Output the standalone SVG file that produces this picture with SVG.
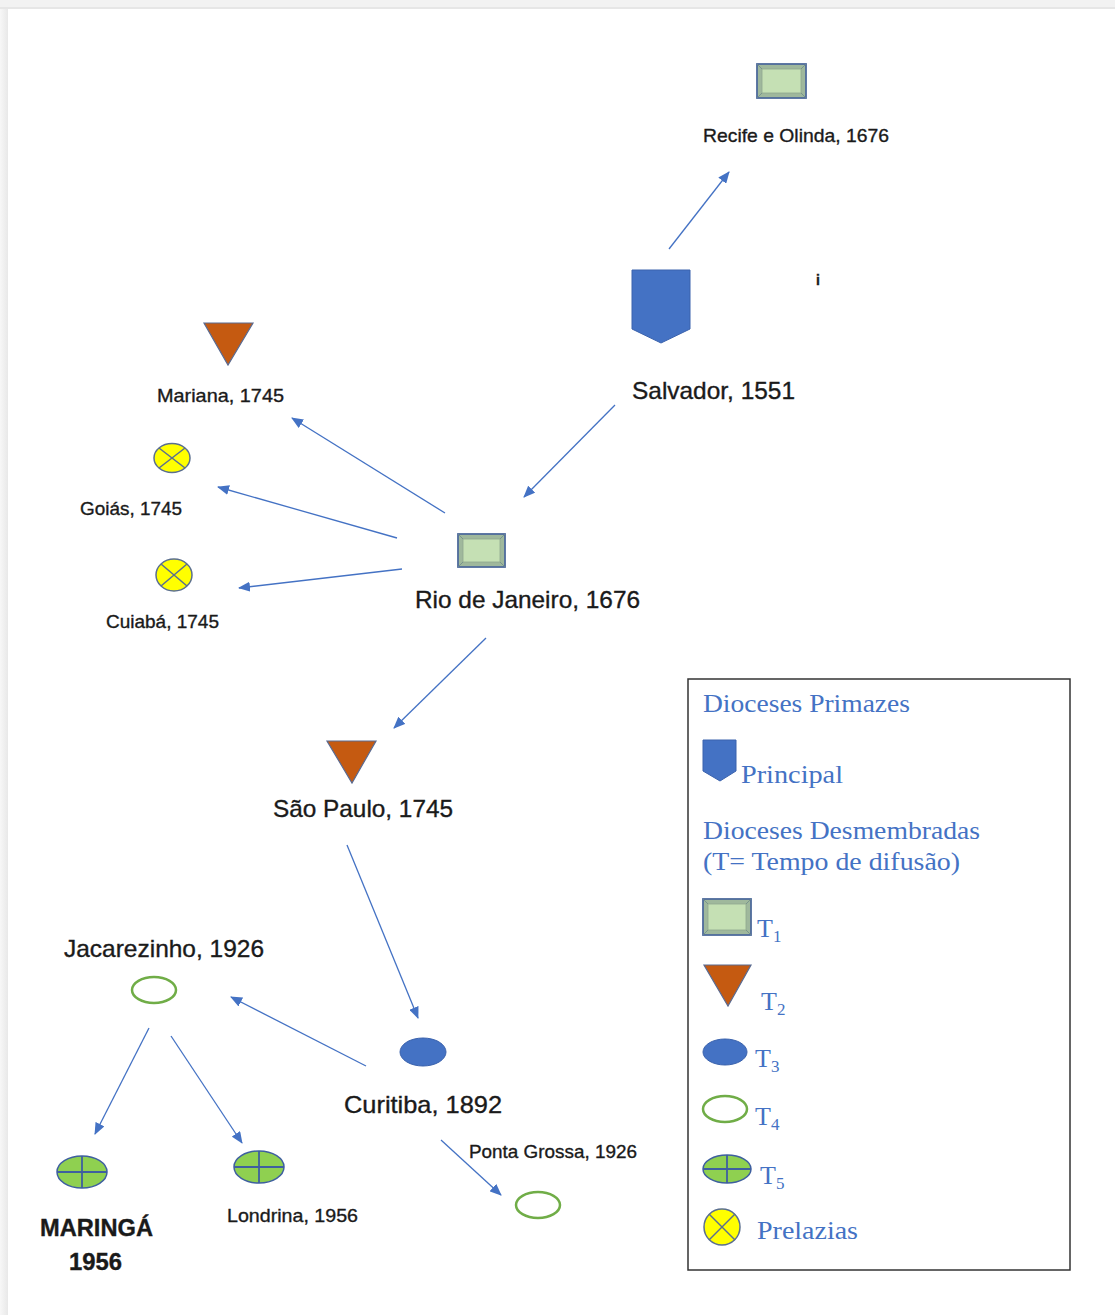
<svg xmlns="http://www.w3.org/2000/svg" width="1115" height="1315" viewBox="0 0 1115 1315">
<defs>
<marker id="ah" markerWidth="12" markerHeight="10" refX="11" refY="5" orient="auto" markerUnits="userSpaceOnUse">
<path d="M0,0 L12,5 L0,10 Z" fill="#4472c4"/>
</marker>
<linearGradient id="lsh" x1="0" x2="1" y1="0" y2="0">
<stop offset="0" stop-color="#f7f7f7"/><stop offset="1" stop-color="#e8e8e8"/>
</linearGradient>
</defs>
<style>
.lbl{font-family:"Liberation Sans",Arial,sans-serif;fill:#1a1a1a;stroke:#1a1a1a;stroke-width:0.35}
.s{font-size:19px}
.b{font-size:24px}
.leg{font-family:"Liberation Serif","Times New Roman",serif;fill:#4472c4;font-size:26px}
.sub{font-size:17px}
.con line{stroke:#4472c4;stroke-width:1.3;marker-end:url(#ah)}
.bevo{fill:#9fb89c;stroke:#4e6b9c;stroke-width:1.8}
.bevi{fill:#c5e0b4;stroke:#8fa88f;stroke-width:0.8}
.bevl{stroke:#6f8a8a;stroke-width:0.8}
.tri{fill:#c55a11;stroke:#5a6a90;stroke-width:1.2}
.pre{fill:#ffff00;stroke:#5b6f8f;stroke-width:1.5}
.prx{stroke:#5b6f8f;stroke-width:1.5}
.t3{fill:#4472c4;stroke:#3a62ad;stroke-width:1}
.t4{fill:#ffffff;stroke:#70ad47;stroke-width:2.5}
.t5{fill:#8fd050;stroke:#3e5f9f;stroke-width:1.5}
.t5x{stroke:#3e5f9f;stroke-width:1.8}
.pri{fill:#4472c4;stroke:#3a62ad;stroke-width:1}
</style>
<rect x="0" y="0" width="1115" height="1315" fill="#f2f2f2"/>
<rect x="0" y="9" width="8" height="1306" fill="url(#lsh)"/>
<rect x="0" y="7" width="1115" height="2" fill="#e6e6e6"/>
<rect x="8" y="9" width="1107" height="1306" fill="#ffffff"/>

<g class="con">
<line x1="669" y1="249" x2="729" y2="172"/>
<line x1="615" y1="405" x2="524" y2="497"/>
<line x1="445" y1="513" x2="292" y2="418"/>
<line x1="397" y1="538" x2="218" y2="487"/>
<line x1="402" y1="569" x2="239" y2="588"/>
<line x1="486" y1="638" x2="394" y2="728"/>
<line x1="347" y1="845" x2="418" y2="1018"/>
<line x1="366" y1="1066" x2="231" y2="997"/>
<line x1="149" y1="1028" x2="95" y2="1134"/>
<line x1="171" y1="1036" x2="242" y2="1143"/>
<line x1="441" y1="1140" x2="501" y2="1195"/>
</g>

<g id="recife">
<rect class="bevo" x="757" y="64" width="49" height="34"/>
<rect class="bevi" x="762" y="69" width="39" height="24"/>
<line class="bevl" x1="757" y1="64" x2="762" y2="69"/><line class="bevl" x1="806" y1="64" x2="801" y2="69"/>
<line class="bevl" x1="757" y1="98" x2="762" y2="93"/><line class="bevl" x1="806" y1="98" x2="801" y2="93"/>
<text class="lbl s" x="703" y="142" textLength="186" lengthAdjust="spacingAndGlyphs">Recife e Olinda, 1676</text>
</g>
<g id="salvador">
<polygon class="pri" points="632,270 690,270 690,329 661,343 632,329"/>
<text class="lbl b" x="632" y="399" textLength="163" lengthAdjust="spacingAndGlyphs">Salvador, 1551</text>
</g>
<g id="note">
<text class="lbl" x="816" y="285" font-size="14" font-weight="bold">i</text>
</g>
<g id="mariana">
<polygon class="tri" points="204,323 253,323 228,365"/>
<text class="lbl s" x="157" y="402" textLength="127" lengthAdjust="spacingAndGlyphs">Mariana, 1745</text>
</g>
<g id="goias">
<ellipse class="pre" cx="172" cy="458" rx="18" ry="14.5"/>
<line class="prx" x1="159" y1="448" x2="185" y2="468"/>
<line class="prx" x1="185" y1="448" x2="159" y2="468"/>
<text class="lbl s" x="80" y="515" textLength="102" lengthAdjust="spacingAndGlyphs">Goiás, 1745</text>
</g>
<g id="cuiaba">
<ellipse class="pre" cx="174" cy="575" rx="18" ry="16"/>
<line class="prx" x1="161" y1="564" x2="187" y2="586"/>
<line class="prx" x1="187" y1="564" x2="161" y2="586"/>
<text class="lbl s" x="106" y="628" textLength="113" lengthAdjust="spacingAndGlyphs">Cuiabá, 1745</text>
</g>
<g id="rio">
<rect class="bevo" x="458" y="534" width="47" height="33"/>
<rect class="bevi" x="463" y="539" width="37" height="23"/>
<line class="bevl" x1="458" y1="534" x2="463" y2="539"/><line class="bevl" x1="505" y1="534" x2="500" y2="539"/>
<line class="bevl" x1="458" y1="567" x2="463" y2="562"/><line class="bevl" x1="505" y1="567" x2="500" y2="562"/>
<text class="lbl b" x="415" y="608" textLength="225" lengthAdjust="spacingAndGlyphs">Rio de Janeiro, 1676</text>
</g>
<g id="saopaulo">
<polygon class="tri" points="327,741 376,741 352,783"/>
<text class="lbl b" x="273" y="817" textLength="180" lengthAdjust="spacingAndGlyphs">São Paulo, 1745</text>
</g>
<g id="curitiba">
<ellipse class="t3" cx="423" cy="1052" rx="23" ry="14"/>
<text class="lbl b" x="344" y="1113" textLength="158" lengthAdjust="spacingAndGlyphs">Curitiba, 1892</text>
</g>
<g id="jacarezinho">
<text class="lbl b" x="64" y="957" textLength="200" lengthAdjust="spacingAndGlyphs">Jacarezinho, 1926</text>
<ellipse class="t4" cx="154" cy="990" rx="22" ry="13"/>
</g>
<g id="pontagrossa">
<text class="lbl s" x="469" y="1158" textLength="168" lengthAdjust="spacingAndGlyphs">Ponta Grossa, 1926</text>
<ellipse class="t4" cx="538" cy="1205" rx="22" ry="13"/>
</g>
<g id="maringa">
<ellipse class="t5" cx="82" cy="1172" rx="25" ry="16"/>
<line class="t5x" x1="57" y1="1172" x2="107" y2="1172"/>
<line class="t5x" x1="82" y1="1156" x2="82" y2="1188"/>
<text class="lbl b" x="40" y="1236" font-weight="bold" textLength="113" lengthAdjust="spacingAndGlyphs">MARINGÁ</text>
<text class="lbl b" x="69" y="1270" font-weight="bold" textLength="53" lengthAdjust="spacingAndGlyphs">1956</text>
</g>
<g id="londrina">
<ellipse class="t5" cx="259" cy="1167" rx="25" ry="16"/>
<line class="t5x" x1="234" y1="1167" x2="284" y2="1167"/>
<line class="t5x" x1="259" y1="1151" x2="259" y2="1183"/>
<text class="lbl s" x="227" y="1222" textLength="131" lengthAdjust="spacingAndGlyphs">Londrina, 1956</text>
</g>

<g id="legend">
<rect x="688" y="679" width="382" height="591" fill="none" stroke="#333333" stroke-width="1.5"/>
<text class="leg" x="703" y="712" textLength="207" lengthAdjust="spacingAndGlyphs">Dioceses Primazes</text>
<polygon class="pri" points="703,740 736,740 736,771 720,781 703,771"/>
<text class="leg" x="741" y="783" textLength="102" lengthAdjust="spacingAndGlyphs">Principal</text>
<text class="leg" x="703" y="839" textLength="277" lengthAdjust="spacingAndGlyphs">Dioceses Desmembradas</text>
<text class="leg" x="703" y="870" textLength="257" lengthAdjust="spacingAndGlyphs">(T= Tempo de difusão)</text>
<rect class="bevo" x="703" y="899" width="48" height="36"/>
<rect class="bevi" x="708" y="904" width="38" height="26"/>
<line class="bevl" x1="703" y1="899" x2="708" y2="904"/><line class="bevl" x1="751" y1="899" x2="746" y2="904"/>
<line class="bevl" x1="703" y1="935" x2="708" y2="930"/><line class="bevl" x1="751" y1="935" x2="746" y2="930"/>
<text class="leg" x="757" y="937">T<tspan class="sub" dy="5">1</tspan></text>
<polygon class="tri" points="704,965 751,965 728,1006"/>
<text class="leg" x="761" y="1010">T<tspan class="sub" dy="5">2</tspan></text>
<ellipse class="t3" cx="725" cy="1052" rx="22" ry="13"/>
<text class="leg" x="755" y="1067">T<tspan class="sub" dy="5">3</tspan></text>
<ellipse class="t4" cx="725" cy="1109" rx="22" ry="13"/>
<text class="leg" x="755" y="1125">T<tspan class="sub" dy="5">4</tspan></text>
<ellipse class="t5" cx="727" cy="1169" rx="24" ry="14"/>
<line class="t5x" x1="703" y1="1169" x2="751" y2="1169"/>
<line class="t5x" x1="727" y1="1155" x2="727" y2="1183"/>
<text class="leg" x="760" y="1184">T<tspan class="sub" dy="5">5</tspan></text>
<circle class="pre" cx="722" cy="1227" r="18"/>
<line class="prx" x1="709" y1="1214" x2="735" y2="1240"/>
<line class="prx" x1="735" y1="1214" x2="709" y2="1240"/>
<text class="leg" x="757" y="1239" textLength="101" lengthAdjust="spacingAndGlyphs">Prelazias</text>
</g>
</svg>
